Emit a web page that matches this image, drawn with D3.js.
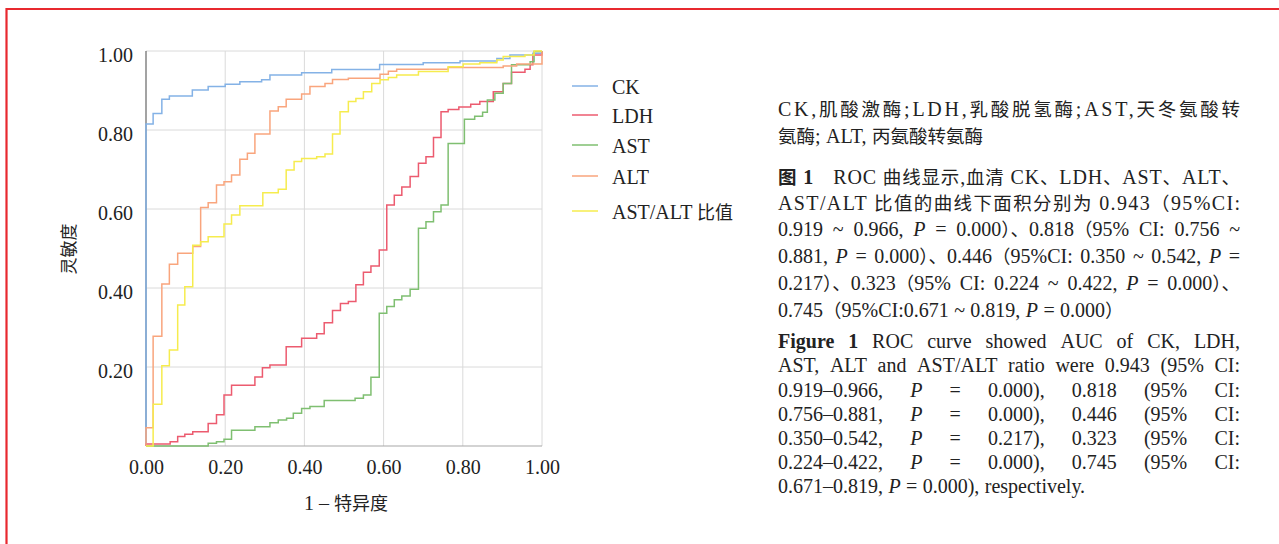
<!DOCTYPE html>
<html><head><meta charset="utf-8">
<script src="https://cdn.jsdelivr.net/npm/d3@7/dist/d3.min.js"></script>
<style>
html,body{margin:0;padding:0;background:#fff;}
text{font-family:'Liberation Serif','Noto Sans CJK SC',serif;fill:#222;}
</style></head>
<body>
<svg id="c" width="1279" height="544"></svg>
<script>
// ---------- DATA ----------
const seriesNames = ["CK", "LDH", "AST", "ALT", "AST/ALT 比值"];
const xTicks = [0, 0.2, 0.4, 0.6, 0.8, 1.0];
const yTicks = [0.2, 0.4, 0.6, 0.8, 1.0];
const xTitle = "1 – 特异度";
const yTitle = "灵敏度";
// ROC steps: [1-specificity, sensitivity]
const ck = [[0,0],[0,0.815],[0.018,0.842],[0.04,0.878],[0.059,0.886],[0.117,0.901],[0.157,0.91],[0.2,0.916],[0.237,0.922],[0.292,0.927],[0.313,0.939],[0.393,0.945],[0.469,0.953],[0.59,0.966],[0.70,0.97],[0.793,0.975],[0.886,0.981],[0.919,0.99],[0.977,0.994],[1,1]];
const ldh = [[0,0],[0,0.005],[0.061,0.011],[0.08,0.024],[0.098,0.03],[0.118,0.036],[0.157,0.057],[0.178,0.079],[0.197,0.129],[0.216,0.154],[0.275,0.175],[0.294,0.198],[0.313,0.205],[0.354,0.251],[0.393,0.273],[0.431,0.284],[0.45,0.312],[0.471,0.343],[0.491,0.361],[0.511,0.366],[0.53,0.408],[0.549,0.44],[0.568,0.456],[0.589,0.496],[0.608,0.61],[0.627,0.635],[0.646,0.656],[0.667,0.682],[0.688,0.716],[0.707,0.732],[0.726,0.781],[0.745,0.846],[0.763,0.852],[0.79,0.858],[0.82,0.865],[0.843,0.872],[0.877,0.897],[0.902,0.918],[0.923,0.946],[0.957,0.954],[0.97,0.965],[0.977,0.99],[1,1]];
const ast = [[0,0],[0.157,0.007],[0.178,0.011],[0.197,0.017],[0.216,0.04],[0.275,0.049],[0.313,0.059],[0.334,0.066],[0.355,0.07],[0.372,0.083],[0.393,0.095],[0.414,0.1],[0.45,0.115],[0.528,0.121],[0.549,0.129],[0.568,0.174],[0.589,0.336],[0.608,0.353],[0.627,0.37],[0.646,0.38],[0.667,0.397],[0.688,0.551],[0.707,0.568],[0.726,0.593],[0.745,0.61],[0.763,0.766],[0.804,0.827],[0.83,0.835],[0.85,0.845],[0.862,0.876],[0.881,0.893],[0.902,0.918],[0.923,0.965],[0.97,0.973],[0.98,0.999],[1,1]];
const alt = [[0,0],[0,0.046],[0.018,0.278],[0.04,0.41],[0.059,0.46],[0.08,0.488],[0.118,0.505],[0.138,0.604],[0.157,0.616],[0.178,0.661],[0.197,0.669],[0.216,0.686],[0.237,0.726],[0.256,0.741],[0.275,0.79],[0.313,0.848],[0.334,0.859],[0.354,0.878],[0.393,0.891],[0.414,0.91],[0.452,0.918],[0.471,0.928],[0.511,0.931],[0.591,0.941],[0.612,0.949],[0.633,0.954],[0.763,0.958],[0.902,0.962],[0.936,0.967],[1,1]];
const ratio = [[0,0],[0.018,0.106],[0.04,0.203],[0.059,0.243],[0.08,0.357],[0.098,0.403],[0.118,0.508],[0.138,0.517],[0.157,0.53],[0.197,0.562],[0.216,0.585],[0.237,0.608],[0.295,0.641],[0.334,0.65],[0.354,0.699],[0.374,0.72],[0.393,0.728],[0.431,0.732],[0.452,0.739],[0.471,0.79],[0.49,0.846],[0.511,0.872],[0.53,0.88],[0.549,0.897],[0.57,0.918],[0.591,0.927],[0.612,0.933],[0.633,0.939],[0.688,0.948],[0.763,0.96],[0.801,0.967],[0.843,0.97],[0.886,0.977],[0.902,0.986],[0.957,0.99],[0.98,1.0],[1,1]];
const seriesData = [ck, ldh, ast, alt, ratio];
const seriesColors = ["#84b2e6", "#ec5b6f", "#7fbf71", "#f9a57d", "#f6ec4e"];

// caption text lines (## bold ##, __ italic __)
const zhLines = [
  "CK,肌酸激酶;LDH,乳酸脱氢酶;AST,天冬氨酸转",
  "氨酶; ALT, 丙氨酸转氨酶"
];
const zhCaption = [
  "##图 1##　ROC 曲线显示,血清 CK、LDH、AST、ALT、",
  "AST/ALT 比值的曲线下面积分别为 0.943（95%CI:",
  "0.919 ~ 0.966, __P__ = 0.000）、0.818（95% CI: 0.756 ~",
  "0.881, __P__ = 0.000）、0.446（95%CI: 0.350 ~ 0.542, __P__ =",
  "0.217）、0.323（95% CI: 0.224 ~ 0.422, __P__ = 0.000）、",
  "0.745（95%CI:0.671 ~ 0.819, __P__ = 0.000）"
];
const enCaption = [
  "##Figure## ##1## ROC curve showed AUC of CK, LDH,",
  "AST, ALT and AST/ALT ratio were 0.943 (95% CI:",
  "0.919–0.966, __P__ = 0.000), 0.818 (95% CI:",
  "0.756–0.881, __P__ = 0.000), 0.446 (95% CI:",
  "0.350–0.542, __P__ = 0.217), 0.323 (95% CI:",
  "0.224–0.422, __P__ = 0.000), 0.745 (95% CI:",
  "0.671–0.819, __P__ = 0.000), respectively."
];

// ---------- DRAW ----------
const svg = d3.select("#c");
const LAT = 20, CJK = 18;
const cjkRe = /[\u3000-\u303f\u4e00-\u9fff\uff00-\uffef]+/g;
function fill(t, str, lat, cjk){
  const re=/##(.+?)##|__(.+?)__/g; const segs=[]; let last=0,m;
  while((m=re.exec(str))){ if(m.index>last) segs.push({t:str.slice(last,m.index)});
    if(m[1]!==undefined) segs.push({t:m[1],b:true}); else segs.push({t:m[2],i:true});
    last=re.lastIndex; }
  if(last<str.length) segs.push({t:str.slice(last)});
  segs.forEach(s=>{
    let p=0, mm; cjkRe.lastIndex=0; const parts=[];
    while((mm=cjkRe.exec(s.t))){ if(mm.index>p) parts.push({t:s.t.slice(p,mm.index),c:false}); parts.push({t:mm[0],c:true}); p=cjkRe.lastIndex; }
    if(p<s.t.length) parts.push({t:s.t.slice(p),c:false});
    parts.forEach(pp=>{
      const ts=t.append("tspan").text(pp.t).attr("font-size", pp.c?cjk:lat);
      if(s.b) ts.attr("font-weight","bold"); if(s.i) ts.attr("font-style","italic");
    });
  });
  return t;
}

// red frame
svg.append("path").attr("d","M6.5,544 L6.5,9 L1279,9").attr("fill","none").attr("stroke","#e8292f").attr("stroke-width",2.2);

const x = d3.scaleLinear().domain([0,1]).range([146,542]);
const y = d3.scaleLinear().domain([0,1]).range([446,51]);

// gridlines
const g = svg.append("g");
g.selectAll(".vg").data(xTicks.filter(d=>d>0)).join("line")
  .attr("x1",d=>x(d)).attr("x2",d=>x(d)).attr("y1",y(0)).attr("y2",y(1))
  .attr("stroke","#dadada").attr("stroke-width",1);
g.selectAll(".hg").data(yTicks).join("line")
  .attr("x1",x(0)).attr("x2",x(1)).attr("y1",d=>y(d)).attr("y2",d=>y(d))
  .attr("stroke","#dadada").attr("stroke-width",1);
g.append("line").attr("x1",x(0)).attr("x2",x(1)).attr("y1",y(0)).attr("y2",y(0)).attr("stroke","#a8a8a8").attr("stroke-width",1.2);
g.append("line").attr("x1",x(0)).attr("x2",x(0)).attr("y1",y(0)).attr("y2",y(1)).attr("stroke","#666").attr("stroke-width",1.2);

// axes labels
const xAxis = svg.append("g").attr("transform",`translate(0,${y(0)})`)
  .call(d3.axisBottom(x).tickValues(xTicks).tickFormat(d3.format(".2f")).tickSize(0).tickPadding(14));
const yAxis = svg.append("g").attr("transform",`translate(${x(0)},0)`)
  .call(d3.axisLeft(y).tickValues(yTicks).tickFormat(d3.format(".2f")).tickSize(0).tickPadding(13));
[xAxis,yAxis].forEach(a=>{a.select(".domain").remove();
  a.selectAll("text").attr("font-family","'Liberation Serif','Noto Sans CJK SC',serif").attr("font-size",LAT).attr("fill","#222");});
yAxis.selectAll("text").attr("dy","0.5em");
xAxis.selectAll("text").attr("dy","0.71em");

fill(svg.append("text").attr("x",346).attr("y",510).attr("text-anchor","middle"), xTitle, LAT, CJK);
fill(svg.append("text").attr("transform","translate(75,249) rotate(-90)").attr("text-anchor","middle"), yTitle, LAT, 17);

// curves
const line = d3.line().x(d=>x(d[0])).y(d=>y(d[1])).curve(d3.curveStepAfter);
seriesData.forEach((s,i)=>{
  svg.append("path").attr("d",line(s)).attr("fill","none").attr("stroke",seriesColors[i]).attr("stroke-width",1.5);
});

// legend
const legY = [86, 115, 145, 176, 211];
seriesNames.forEach((n,i)=>{
  svg.append("line").attr("x1",572).attr("x2",598).attr("y1",legY[i]).attr("y2",legY[i]).attr("stroke",seriesColors[i]).attr("stroke-width",1.5);
  fill(svg.append("text").attr("x",612).attr("y",legY[i]+8), n, LAT, CJK);
});

// caption
const X0 = 778, W = 462, CLAT = 20, CCJK = 18.5;
function drawFull(str, yy, justify){
  const t = fill(svg.append("text").attr("x",X0).attr("y",yy), str, CLAT, CCJK);
  if(justify) t.attr("textLength",W).attr("lengthAdjust","spacing");
}
function drawWords(str, yy, justify){
  const words = str.split(" ").filter(w=>w.length);
  const els = words.map(w=>fill(svg.append("text").attr("y",yy), w, CLAT, CCJK));
  const ws = els.map(e=>e.node().getComputedTextLength());
  const sum = d3.sum(ws);
  const gap = justify && els.length>1 ? (W-sum)/(els.length-1) : CLAT*0.27;
  let cx = X0;
  els.forEach((e,i)=>{e.attr("x",cx); cx += ws[i]+gap;});
}
const zhY = [110, 137];
zhLines.forEach((l,i)=>{ if(i===0) drawFull(l, zhY[i]+6, true); else drawWords(l, zhY[i]+6, false); });
const capY = [178, 204, 230, 257, 284, 311];
zhCaption.forEach((l,i)=>{
  if(i<2) drawFull(l, capY[i]+6, true);
  else drawWords(l, capY[i]+6, i<5);
});
const enY = [342, 366, 391, 415, 439, 463, 487];
enCaption.forEach((l,i)=>drawWords(l, enY[i]+6, i<6));
</script>
</body></html>
